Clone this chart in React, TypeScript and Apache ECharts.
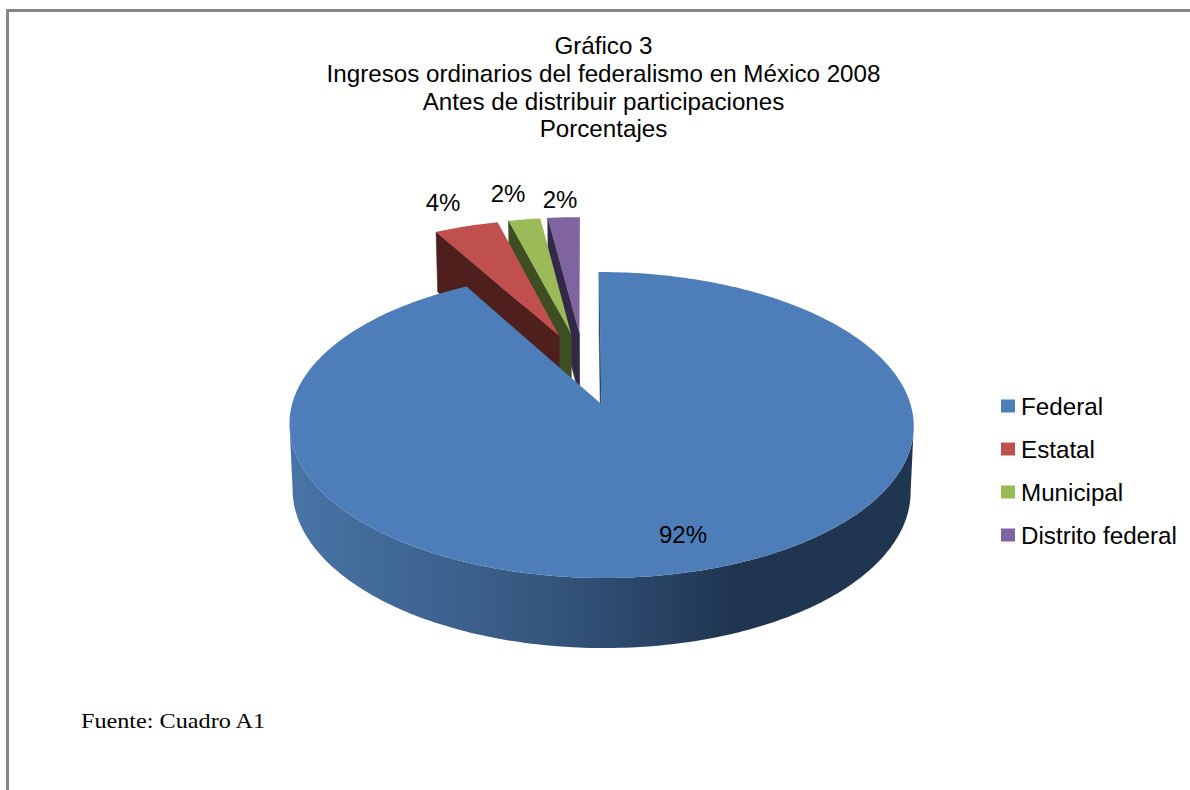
import React, { useEffect, useRef } from "react";
import * as echarts from "echarts";

const titleLines = [
  "Gráfico 3",
  "Ingresos ordinarios del federalismo en México 2008",
  "Antes de distribuir participaciones",
  "Porcentajes",
];
const sourceNote = "Fuente: Cuadro A1";
const categories = ["Federal", "Estatal", "Municipal", "Distrito federal"];
const shares = [92, 4, 2, 2];

const topColors = ["#4D7EBA", "#C0504D", "#9BBB59", "#8064A2"];
const sideColors = ["#27405F", "#4F1F1E", "#3F4D23", "#342848"];

// Centres of the percentage labels on the page.
const labelAnchors = [
  [683, 534],
  [443, 202],
  [508, 193],
  [560, 199],
];

// Perspective applied to the unit disc of the pie: u to the right, v towards the viewer.
const ORIGIN_X = 583.6;
const ORIGIN_Y = 368.1;
const SCALE_X = 299;
const SCALE_Y = 140.4;
const PERSPECTIVE = 0.133;
const EXPLODE_U = 0.23;
const EXPLODE_V = 0.255;

type Point = [number, number];

const project = (u: number, v: number): Point => {
  const w = 1 - PERSPECTIVE * v;
  return [ORIGIN_X + (SCALE_X * u) / w, ORIGIN_Y + (SCALE_Y * v) / w];
};

// The same point on the underside of the pie.
const dropDown = ([x, y]: Point): Point => [
  601 + (x - 601) * 0.99,
  y + 60 + (y - 231) * 0.029,
];

const total = shares.reduce((a, b) => a + b, 0);
const startAngles = shares.map(
  (_, i) => (shares.slice(0, i).reduce((a, b) => a + b, 0) / total) * 2 * Math.PI
);

const sliceGeometry = (index: number) => {
  const start = startAngles[index];
  const sweep = (shares[index] / total) * 2 * Math.PI;
  const mid = start + sweep / 2;
  const offU = EXPLODE_U * Math.sin(mid);
  const offV = -EXPLODE_V * Math.cos(mid);
  const steps = Math.max(8, Math.round(sweep * 60));
  const rim: Point[] = [];
  for (let s = 0; s <= steps; s++) {
    const a = start + (sweep * s) / steps;
    rim.push(project(offU + Math.sin(a), offV - Math.cos(a)));
  }
  return { apex: project(offU, offV), rim, sweep };
};

const renderSlice = (index: number) => () => {
  const { apex, rim, sweep } = sliceGeometry(index);
  const children: any[] = [];

  // Cut face along the slice's starting edge.
  children.push({
    type: "polygon",
    shape: { points: [rim[0], apex, dropDown(apex), dropDown(rim[0])] },
    style: { fill: sideColors[index], stroke: sideColors[index], lineWidth: 0.6 },
  });

  // Outer wall: the part of the rim between its rightmost and leftmost points.
  if (sweep > Math.PI) {
    let right = 0;
    let left = 0;
    rim.forEach((p, i) => {
      if (p[0] > rim[right][0]) right = i;
      if (p[0] < rim[left][0]) left = i;
    });
    const front = rim.slice(right, left + 1);
    children.push({
      type: "polygon",
      shape: { points: [...front, ...front.map(dropDown).reverse()] },
      style: {
        fill: new echarts.graphic.LinearGradient(0, 0, 1, 0, [
          { offset: 0, color: "#4774A6" },
          { offset: 0.3, color: "#3B5F8A" },
          { offset: 0.5, color: "#2F4D72" },
          { offset: 0.71, color: "#1F3550" },
          { offset: 1, color: "#1F3550" },
        ]),
      },
    });
  }

  children.push({
    type: "polygon",
    shape: { points: [apex, ...rim] },
    style: { fill: topColors[index] },
  });

  children.push({
    type: "text",
    x: labelAnchors[index][0],
    y: labelAnchors[index][1],
    style: {
      text: `${shares[index]}%`,
      fill: "#000",
      fontSize: 24,
      fontFamily: "Liberation Sans",
      textAlign: "center",
      textVerticalAlign: "middle",
    },
  });

  return { type: "group", children };
};

export default function App() {
  const ref = useRef<HTMLDivElement>(null);

  useEffect(() => {
    document.body.style.margin = "0";
    const chart = echarts.init(ref.current!, null, { renderer: "svg" });
    // Painted back to front: the slices furthest right sit behind their neighbours.
    const order = categories.map((_, i) => i).reverse();
    chart.setOption({
      animation: false,
      backgroundColor: "#fff",
      textStyle: { fontFamily: "Liberation Sans" },
      title: {
        text: titleLines.join("\n"),
        left: 598.5,
        top: 27,
        textAlign: "center",
        textStyle: {
          fontSize: 24.2,
          fontWeight: "normal",
          color: "#000",
          lineHeight: 27.6,
          fontFamily: "Liberation Sans",
        },
      },
      legend: {
        orient: "vertical",
        left: 996,
        top: 388,
        itemWidth: 14,
        itemHeight: 13,
        itemGap: 17,
        icon: "rect",
        selectedMode: false,
        data: categories.map((name, i) => ({
          name,
          itemStyle: { color: topColors[i] },
        })),
        textStyle: {
          fontSize: 24.2,
          color: "#000",
          lineHeight: 26,
          padding: [0, 0, 0, 1],
          fontFamily: "Liberation Sans",
        },
      },
      graphic: [
        {
          type: "rect",
          shape: { x: 6, y: 9, width: 1184, height: 3 },
          style: { fill: "#868686" },
        },
        {
          type: "rect",
          shape: { x: 6, y: 9, width: 3, height: 781 },
          style: { fill: "#868686" },
        },
        {
          type: "text",
          x: 81,
          y: 720,
          scaleX: 1.1,
          style: {
            text: sourceNote,
            fill: "#000",
            fontSize: 22,
            fontFamily: "Liberation Serif",
            textVerticalAlign: "middle",
          },
        },
      ],
      series: order.map((i) => ({
        type: "custom",
        name: categories[i],
        coordinateSystem: "none",
        silent: true,
        itemStyle: { color: topColors[i] },
        data: [shares[i]],
        renderItem: renderSlice(i),
      })),
    });
    return () => chart.dispose();
  }, []);

  return (
    <div
      ref={ref}
      style={{ position: "fixed", left: 0, top: 0, width: 1190, height: 790 }}
    />
  );
}
